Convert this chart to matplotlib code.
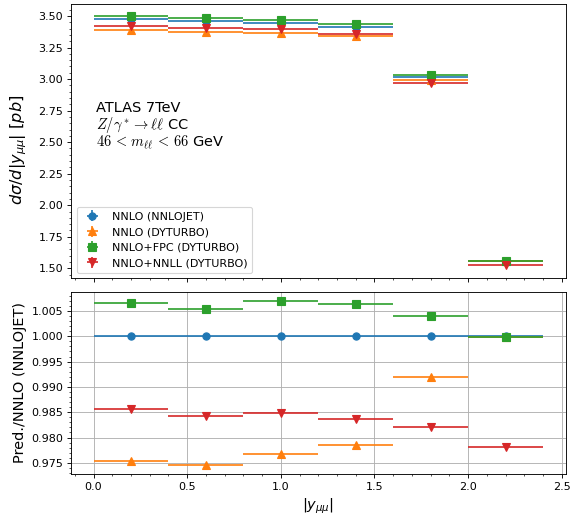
import numpy                                                         as np
import matplotlib
matplotlib.use("Agg")
import matplotlib.pyplot                                             as plt


# Bins in |y_mumu| (centres and half widths).
binCentres   = [0.2, 0.6, 1.0, 1.4, 1.8, 2.2]
binHalfWidth = [0.2, 0.2, 0.2, 0.2, 0.2, 0.2]

# Cross sections d(sigma)/d|y| in pb.
nnlojet      = [3.4740, 3.4630, 3.4470, 3.4150, 3.0190, 1.5600]
dyturbo      = [3.3883, 3.3750, 3.3669, 3.3417, 2.9945, 1.5598]
dyturboFpc   = [3.4969, 3.4819, 3.4709, 3.4366, 3.0311, 1.5597]
dyturboNnll  = [3.4241, 3.4085, 3.3951, 3.3591, 2.9652, 1.5259]

# Statistical uncertainties in pb.
nnlojetErr     = [0.0010, 0.0010, 0.0010, 0.0010, 0.0010, 0.0008]
dyturboErr     = [0.0010, 0.0010, 0.0010, 0.0010, 0.0010, 0.0008]
dyturboFpcErr  = [0.0010, 0.0010, 0.0010, 0.0010, 0.0010, 0.0008]
dyturboNnllErr = [0.0010, 0.0010, 0.0010, 0.0010, 0.0010, 0.0008]

labels  = ["NNLO (NNLOJET)", "NNLO (DYTURBO)", "NNLO+FPC (DYTURBO)", "NNLO+NNLL (DYTURBO)"]
series  = [nnlojet, dyturbo, dyturboFpc, dyturboNnll]
errors  = [nnlojetErr, dyturboErr, dyturboFpcErr, dyturboNnllErr]
markers = ["o", "^", "s", "v"]
colors  = ["C0", "C1", "C2", "C3"]

dpi    = 80
figure = plt.figure(figsize=(570/dpi, 518/dpi), dpi=dpi)

top    = figure.add_axes([0.1246, 0.4627, 0.8676, 0.5296])
bottom = figure.add_axes([0.1246, 0.0849, 0.8676, 0.3520], sharex=top)

reference = np.array(nnlojet)
for values, err, marker, color, label in zip(series, errors, markers, colors, labels):
    values = np.array(values)
    err    = np.array(err)
    top.errorbar(binCentres, values, xerr=binHalfWidth, yerr=err, fmt=marker, color=color,
                 markersize=6.5, linewidth=1.5, label=label)
    bottom.errorbar(binCentres, values/reference, xerr=binHalfWidth, yerr=err/reference, fmt=marker,
                    color=color, markersize=6.5, linewidth=1.5)

# Upper panel: absolute cross sections.
top.set_ylim(1.421, 3.595)
top.set_ylabel(r"$d\sigma/d|y_{\mu\mu}|\ [pb]$", fontsize=14.5)
top.yaxis.set_label_coords(-0.085, 0.47)
top.minorticks_on()
top.tick_params(axis="x", labelbottom=False)
top.legend(loc="lower left", fontsize=10)
top.text(0.05, 0.645, "ATLAS 7TeV\n" + r"$Z/\gamma^* \rightarrow \ell\ell$ CC" + "\n" + r"$46\, <\, m_{\ell\ell}\, <\, 66$ GeV",
         transform=top.transAxes, ha="left", va="top", fontsize=13, linespacing=0.95,
         math_fontfamily="cm")

# Lower panel: ratio to NNLOJET.
bottom.set_xlim(-0.12, 2.52)
bottom.set_ylim(0.9728, 1.0088)
bottom.set_ylabel("Pred./NNLO (NNLOJET)", fontsize=13)
bottom.set_xlabel(r"$|y_{\mu\mu}|$", fontsize=13)
bottom.minorticks_on()
bottom.grid(True, which="major")

figure.savefig("out.png", dpi=dpi)
